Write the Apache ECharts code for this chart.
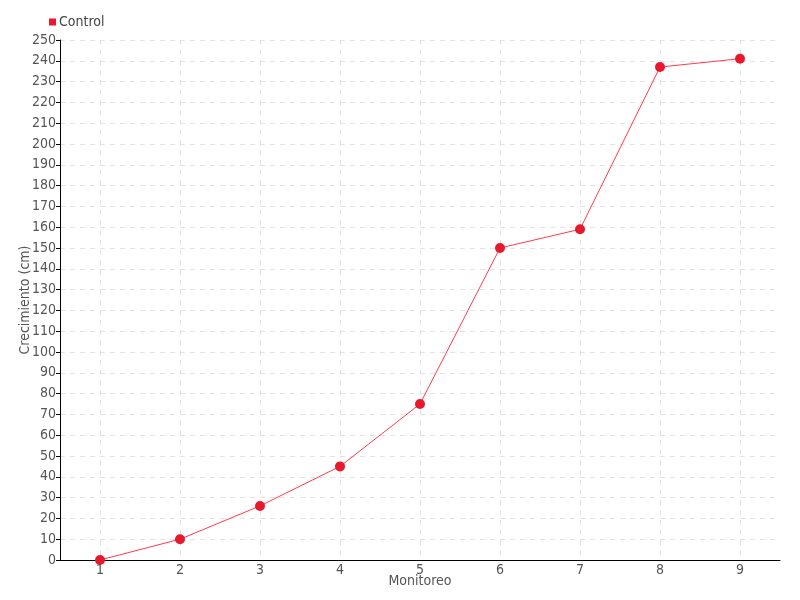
<!DOCTYPE html>
<html><head><meta charset="utf-8">
<script src="https://cdn.jsdelivr.net/npm/echarts@6/dist/echarts.min.js"></script>
<style>html,body{margin:0;padding:0;background:#fff}#c{width:800px;height:600px}</style>
</head><body><div id="c"></div>
<script>
const categories = ['1','2','3','4','5','6','7','8','9'];
const controlValues = [0, 10, 26, 45, 75, 150, 159, 237, 241];
const seriesName = 'Control';
const xTitle = 'Monitoreo';
const yTitle = 'Crecimiento (cm)';

const FONT = '"Liberation Sans Narrow", "DejaVu Sans Condensed", sans-serif';
const chart = echarts.init(document.getElementById('c'));
chart.setOption({
  animation: false,
  textStyle: { fontFamily: FONT },
  legend: {
    data: [{ name: seriesName, icon: 'rect' }],
    left: 44, top: 10, itemWidth: 7, itemHeight: 7, itemGap: 4,
    textStyle: { fontFamily: FONT, fontSize: 14, color: '#444', padding: [0,0,0,-2] }
  },
  grid: { left: 60, right: 20, top: 40, bottom: 40 },
  xAxis: {
    type: 'category', data: categories, boundaryGap: true,
    name: xTitle, nameLocation: 'middle', nameGap: 14, nameMoveOverlap: false,
    nameTextStyle: { fontFamily: FONT, fontSize: 14, color: '#555' },
    axisLine: { lineStyle: { color: '#000', width: 1 } },
    axisTick: { alignWithLabel: true, length: 4, lineStyle: { color: '#000' } },
    axisLabel: { fontFamily: FONT, fontSize: 14, color: '#555', margin: 3 },
    splitLine: { show: true, alignWithLabel: true, lineStyle: { color: '#e3e3e3', type: [5, 5] } }
  },
  yAxis: {
    type: 'value', min: 0, max: 250, interval: 10,
    name: yTitle, nameLocation: 'middle', nameGap: 28, nameMoveOverlap: false, nameRotate: 90,
    nameTextStyle: { fontFamily: FONT, fontSize: 14, color: '#555' },
    axisLine: { show: true, lineStyle: { color: '#000', width: 1 } },
    axisTick: { show: true, length: 4, lineStyle: { color: '#000' } },
    axisLabel: { fontFamily: FONT, fontSize: 14, color: '#555', margin: 4 },
    splitLine: { show: true, lineStyle: { color: '#e3e3e3', type: [5, 5] } }
  },
  series: [{
    name: seriesName, type: 'line', data: controlValues,
    symbol: 'circle', symbolSize: 10,
    itemStyle: { color: '#e8192c' },
    lineStyle: { color: '#ff3b4e', width: 1 }
  }]
});
</script></body></html>
